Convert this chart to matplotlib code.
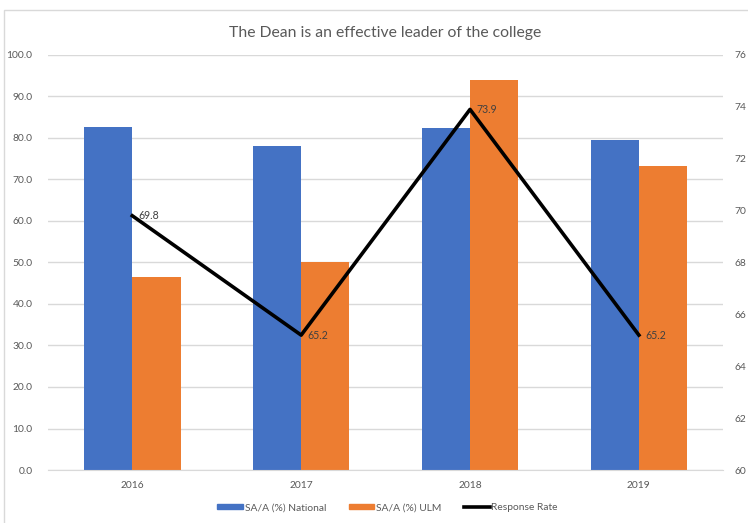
import numpy as np
import matplotlib.pyplot as plt
from matplotlib.patches import Rectangle
from matplotlib.lines import Line2D

plt.rcParams['font.family'] = ['Lato', 'DejaVu Sans']

years = ['2016', '2017', '2018', '2019']
national = [82.7, 78.0, 82.4, 79.6]
ulm = [46.6, 50.0, 94.0, 73.2]
response = [69.8, 65.2, 73.9, 65.2]

blue = '#4472C4'
orange = '#ED7D31'
grey = '#595959'

fig = plt.figure(figsize=(7.48, 5.23), dpi=100)
ax = fig.add_axes([0.064, 0.1013, 0.903, 0.7937])

# outer chart frame
fig.patches.append(Rectangle((4 / 748, -0.05), 1.1, 1 - 10 / 523 + 0.05,
                             transform=fig.transFigure, fill=False,
                             edgecolor='#D9D9D9', linewidth=1))

x = np.arange(len(years))
w = 0.286
ax.bar(x - w / 2, national, w, color=blue, label='SA/A (%) National', zorder=2)
ax.bar(x + w / 2, ulm, w, color=orange, label='SA/A (%) ULM', zorder=2)

ax.set_xlim(-0.5, 3.5)
ax.set_ylim(0, 100)
ax.set_yticks(np.arange(0, 101, 10))
ax.set_yticklabels([f'{v:.1f}' for v in np.arange(0, 101, 10)])
ax.set_xticks(x)
ax.set_xticklabels(years)
ax.yaxis.grid(True, color='#D9D9D9', linewidth=1, zorder=0)
ax.set_axisbelow(True)
for s in ax.spines.values():
    s.set_visible(False)
ax.spines['bottom'].set_visible(True)
ax.spines['bottom'].set_color('#D9D9D9')
ax.tick_params(axis='both', length=0, colors=grey, labelsize=7.4)
ax.tick_params(axis='y', pad=11)
ax.tick_params(axis='x', pad=8)

ax2 = ax.twinx()
ax2.set_ylim(60, 76)
ax2.set_yticks(np.arange(60, 77, 2))
for s in ax2.spines.values():
    s.set_visible(False)
ax2.tick_params(axis='y', length=0, colors=grey, labelsize=7.4, pad=8)
ax2.plot(x, response, color='black', linewidth=2.6, zorder=5, label='Response Rate')
for xi, v in zip(x, response):
    ax2.annotate(f'{v}', (xi, v), xytext=(4.5, 0), textcoords='offset points',
                 ha='left', va='center', fontsize=7.6, color='#404040')

ax.set_title('The Dean is an effective leader of the college',
             fontsize=11.3, color=grey, pad=13)

handles = [Rectangle((0, 0), 1, 1, color=blue), Rectangle((0, 0), 1, 1, color=orange),
           Line2D([0], [0], color='black', linewidth=2.6)]
labels = ['SA/A (%) National', 'SA/A (%) ULM', 'Response Rate']
leg = fig.legend(handles, labels, loc='center', bbox_to_anchor=(0.518, 0.029), ncol=3,
                 frameon=False, fontsize=7.4, handlelength=2.5, handleheight=0.45,
                 handletextpad=0.15, columnspacing=2.2)
for t in leg.get_texts():
    t.set_color(grey)

fig.savefig('out.png', dpi=100)
